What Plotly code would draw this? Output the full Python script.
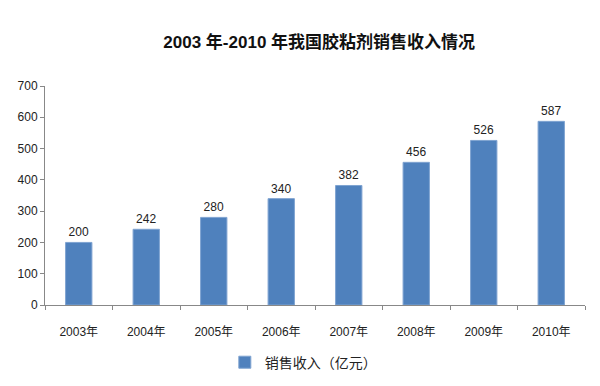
import plotly.graph_objects as go

years = ["2003年", "2004年", "2005年", "2006年", "2007年", "2008年", "2009年", "2010年"]
revenue = [200, 242, 280, 340, 382, 456, 526, 587]
series_name = "销售收入（亿元）"
title = "2003 年-2010 年我国胶粘剂销售收入情况"

font_family = "Liberation Sans, Arial, Noto Sans CJK SC, sans-serif"

fig = go.Figure()
fig.add_trace(go.Bar(
    x=years, y=revenue, name=series_name,
    text=[str(v) for v in revenue], textposition="outside",
    textfont=dict(size=12, color="#222222"),
    marker=dict(color="#4F81BD", line=dict(color="#7FA3D1", width=1)),
    width=0.39, cliponaxis=False,
))

fig.update_layout(
    width=600, height=386,
    paper_bgcolor="white", plot_bgcolor="white",
    margin=dict(l=45, r=15, t=86, b=81, autoexpand=False),
    title=dict(text="<b>" + title + "</b>", x=0.532, xanchor="center", y=0.89, yanchor="middle",
               font=dict(size=17, color="#111111", family=font_family)),
    font=dict(family=font_family, size=12, color="#222222"),
    showlegend=True,
    legend=dict(orientation="h", x=0.333, xanchor="left", y=-0.19, yanchor="top",
                itemwidth=30, font=dict(size=14, color="#222222")),
)
fig.update_yaxes(range=[0, 700], dtick=100, showgrid=False, showline=True, linecolor="#888888",
                 ticks="outside", ticklen=4, tickcolor="#888888", zeroline=False, automargin=False,
                 tickfont=dict(size=12, color="#222222"))
fig.update_xaxes(showgrid=False, showline=True, linecolor="#888888", ticks="outside",
                 tickson="boundaries", ticklen=4, tickcolor="#888888", automargin=False,
                 ticklabelstandoff=16,
                 tickfont=dict(size=12, color="#222222"))

fig.write_html("out.html", config={"displayModeBar": False},
               post_script="document.body.style.margin='0px';")
